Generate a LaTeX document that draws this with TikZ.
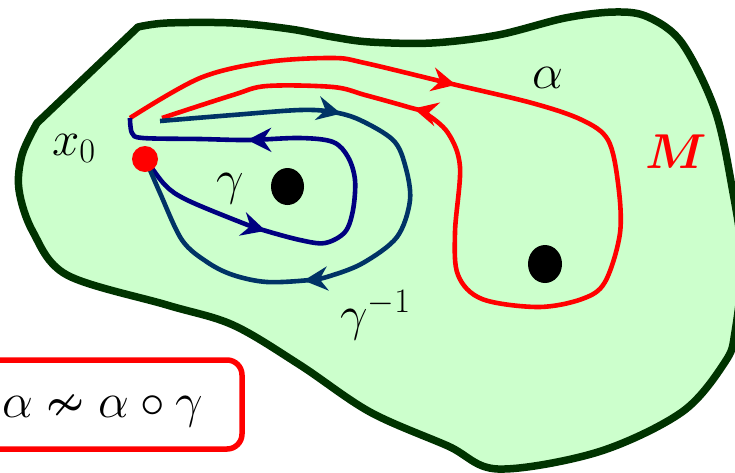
\documentclass[tikz,border=0pt]{standalone}
\usepackage{fix-cm}
\usepackage{amsmath,amssymb,bm}
\usetikzlibrary{decorations.markings,arrows.meta}
\definecolor{landfill}{HTML}{CCFFCC}
\definecolor{landline}{HTML}{003300}
\definecolor{gnavy}{HTML}{000080}
\definecolor{gteal}{HTML}{003366}
\tikzset{
  twoarrows/.style n args={2}{decoration={markings,
    mark=at position #1 with {\arrow{Stealth[length=24pt,width=24pt,inset=8pt]}},
    mark=at position #2 with {\arrow{Stealth[length=24pt,width=24pt,inset=8pt]}}},
    postaction={decorate}},
  lbl/.style={font=\fontsize{49}{53}\selectfont, inner sep=0pt, anchor=base west},
  loopline/.style={line width=4.6pt, line join=round},
  hole/.style={fill=black, draw=none},
}
\begin{document}
\begin{tikzpicture}[x=1pt,y=-1pt]
\useasboundingbox (0,0) rectangle (735,472);
\clip (0,0) rectangle (735,472);
% manifold M
\draw[landline, fill=landfill, line width=7.5pt, line join=round]
  plot[smooth, tension=0.55] coordinates {(138,27) (167,23) (233,23) (290,29) (333,37) (370,42) (432,43) (498,35) (565,18) (615,12) (648,17) (682,43) (715,110) (732,187) (742,260) (735,332) (725,362) (682,412) (598,452) (498,469) (448,446) (370,412) (300,365) (233,325) (167,305) (67,275) (33,232) (19,190) (22,155) (37,123)} -- cycle;
% alpha
\draw[red, loopline, twoarrows={0.27}{0.795}]
  plot[smooth, tension=0.55] coordinates {(130,118) (200,78) (267,62) (333,58) (365,63) (448,83) (532,103) (582,120) (608,140) (618,183) (620,233) (605,282) (582,299) (538,307) (482,299) (458,275) (455,232) (460,167) (448,133) (425,113) (408,107) (365,95) (333,87) (267,86) (233,95) (162,118)};
% gamma
\draw[gnavy, loopline, twoarrows={0.265}{0.758}]
  plot[smooth, tension=0.55] coordinates {(145,158) (165,185) (187,200) (240,222) (263,230) (300,240) (325,243) (345,232) (353,210) (355,180) (348,157) (333,142) (300,138) (248,140) (200,139) (143,138) (132,133) (130,118)};
% gamma inverse
\draw[gteal, loopline, twoarrows={0.27}{0.667}]
  plot[smooth, tension=0.55] coordinates {(160,121) (233,115) (300,110) (333,112) (360,120) (393,140) (405,165) (410,200) (397,237) (363,263) (330,276) (310,280) (267,282) (233,275) (207,262) (182,240) (160,193) (145,158)};
% holes and base point
\path[hole] (287.5,186.5) ellipse [x radius=16.5, y radius=18.5];
\path[hole] (545,264) ellipse [x radius=17, y radius=19];
\node[circle, fill=red, minimum size=26pt, inner sep=0pt] (x0) at (145,159) {};
% labels
\node[lbl] (x0lbl) at (52,155) {$x_0$};
\node[lbl] (gammalbl) at (216,194) {$\gamma$};
\node[lbl] (alphalbl) at (532,88) {$\alpha$};
\node[lbl, text=red] (Mlbl) at (645,168) {$\bm{M}$};
\node[lbl] (ginvlbl) at (340,330) {$\gamma^{-1}$};
% formula box
\draw[red, line width=5.5pt, rounded corners=15pt, fill=white] (-30,360) rectangle (242,449);
\node[lbl] (formula) at (2,417) {$\alpha\nsim\alpha\circ\gamma$};
\end{tikzpicture}
\end{document}
